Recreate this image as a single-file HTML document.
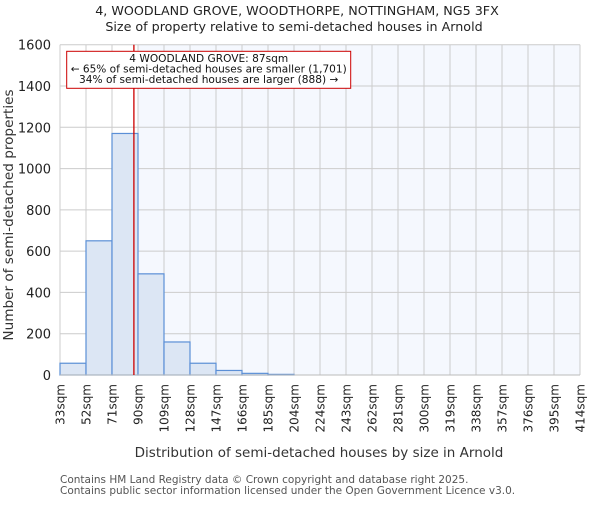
<!DOCTYPE html>
<html><head><meta charset="utf-8"><style>body{margin:0;background:#fff}svg{font-family:"DejaVu Sans","Liberation Sans",sans-serif}</style></head>
<body>
<svg id="c" width="600" height="500" xmlns="http://www.w3.org/2000/svg"></svg>
<script>
const binLabels=["33sqm","52sqm","71sqm","90sqm","109sqm","128sqm","147sqm","166sqm","185sqm","204sqm","224sqm","243sqm","262sqm","281sqm","300sqm","319sqm","338sqm","357sqm","376sqm","395sqm","414sqm"];
const binEdges=[33,52,71,90,109,128,147,166,185,204,224,243,262,281,300,319,338,357,376,395,414];
const counts=[57,650,1170,490,160,57,22,8,3,0,0,0,0,0,0,0,0,0,0,0];
const yTicks=[0,200,400,600,800,1000,1200,1400,1600];
const markerValue=87;
const NS="http://www.w3.org/2000/svg";
const svg=document.getElementById('c');
const L=60,R=580,T=44.7,B=375,yMax=1600;
const n=counts.length,bw=(R-L)/n;
const xi=i=>L+i*bw;
const xv=v=>{for(let i=0;i<n;i++){if(v<=binEdges[i+1])return xi(i)+bw*(v-binEdges[i])/(binEdges[i+1]-binEdges[i]);}return R;};
const y=v=>B-(B-T)*v/yMax;
function el(t,a,name,txt){const e=document.createElementNS(NS,t);for(const k in a)e.setAttribute(k,a[k]);


if(txt!=null)e.textContent=txt;svg.appendChild(e);return e;}
const mx=xv(markerValue);
const shadeX=xi(3);
el('rect',{x:L,y:T,width:R-L,height:B-T,fill:'#fff'},'plot-background');
el('rect',{x:shadeX,y:T,width:R-shadeX,height:B-T,fill:'#f5f8fe'},'larger-region-shade');
for(let i=0;i<=n;i++)el('line',{x1:xi(i),x2:xi(i),y1:T,y2:B,stroke:'#ccc','stroke-width':1},'x-gridline');
yTicks.forEach(t=>{el('line',{x1:L,x2:R,y1:y(t),y2:y(t),stroke:'#ccc','stroke-width':1},'y-gridline');
el('text',{x:L-9,y:y(t)+5,'text-anchor':'end','font-size':13,fill:'#222'},'y-tick-label',String(t));});
counts.forEach((c,i)=>{if(c>0)el('rect',{x:xi(i),y:y(c),width:bw,height:B-y(c),fill:'#dce6f4',stroke:'#5b8fd6','stroke-width':1.2},'bar-'+binLabels[i]);});
el('line',{x1:L,x2:R,y1:B,y2:B,stroke:'#bbb'},'x-axis-line');
binLabels.forEach((l,i)=>{const x=xi(i);el('text',{x:0,y:0,transform:`translate(${x+4.5},384) rotate(-90)`,'text-anchor':'end','font-size':12,fill:'#222'},'x-tick-label',l);});
el('line',{x1:mx,x2:mx,y1:T,y2:B,stroke:'#cc0000','stroke-width':1.3},'property-marker-line');
el('rect',{x:66.7,y:51.3,width:284,height:37,fill:'#fff',stroke:'#cc0000','stroke-width':1},'annotation-box');
el('text',{x:208.7,y:62,'text-anchor':'middle','font-size':10.6,fill:'#111'},'annotation-title','4 WOODLAND GROVE: 87sqm');
el('text',{x:208.7,y:72.5,'text-anchor':'middle','font-size':10.6,fill:'#111',textLength:276,lengthAdjust:'spacingAndGlyphs'},'annotation-smaller','← 65% of semi-detached houses are smaller (1,701)');
el('text',{x:208.7,y:83,'text-anchor':'middle','font-size':10.6,fill:'#111'},'annotation-larger','34% of semi-detached houses are larger (888) →');
el('text',{x:297,y:15,'text-anchor':'middle','font-size':12.7,fill:'#222'},'chart-title','4, WOODLAND GROVE, WOODTHORPE, NOTTINGHAM, NG5 3FX');
el('text',{x:294,y:31,'text-anchor':'middle','font-size':12.7,fill:'#222'},'chart-subtitle','Size of property relative to semi-detached houses in Arnold');
el('text',{x:0,y:0,transform:'translate(13,215) rotate(-90)','text-anchor':'middle','font-size':13.6,fill:'#333'},'y-axis-title','Number of semi-detached properties');
el('text',{x:319,y:457,'text-anchor':'middle','font-size':13.5,fill:'#333'},'x-axis-title','Distribution of semi-detached houses by size in Arnold');
el('text',{x:60,y:483,'font-size':10.5,fill:'#555'},'footer-line-1','Contains HM Land Registry data © Crown copyright and database right 2025.');
el('text',{x:60,y:494,'font-size':10.5,fill:'#555'},'footer-line-2','Contains public sector information licensed under the Open Government Licence v3.0.');
</script>
</body></html>
